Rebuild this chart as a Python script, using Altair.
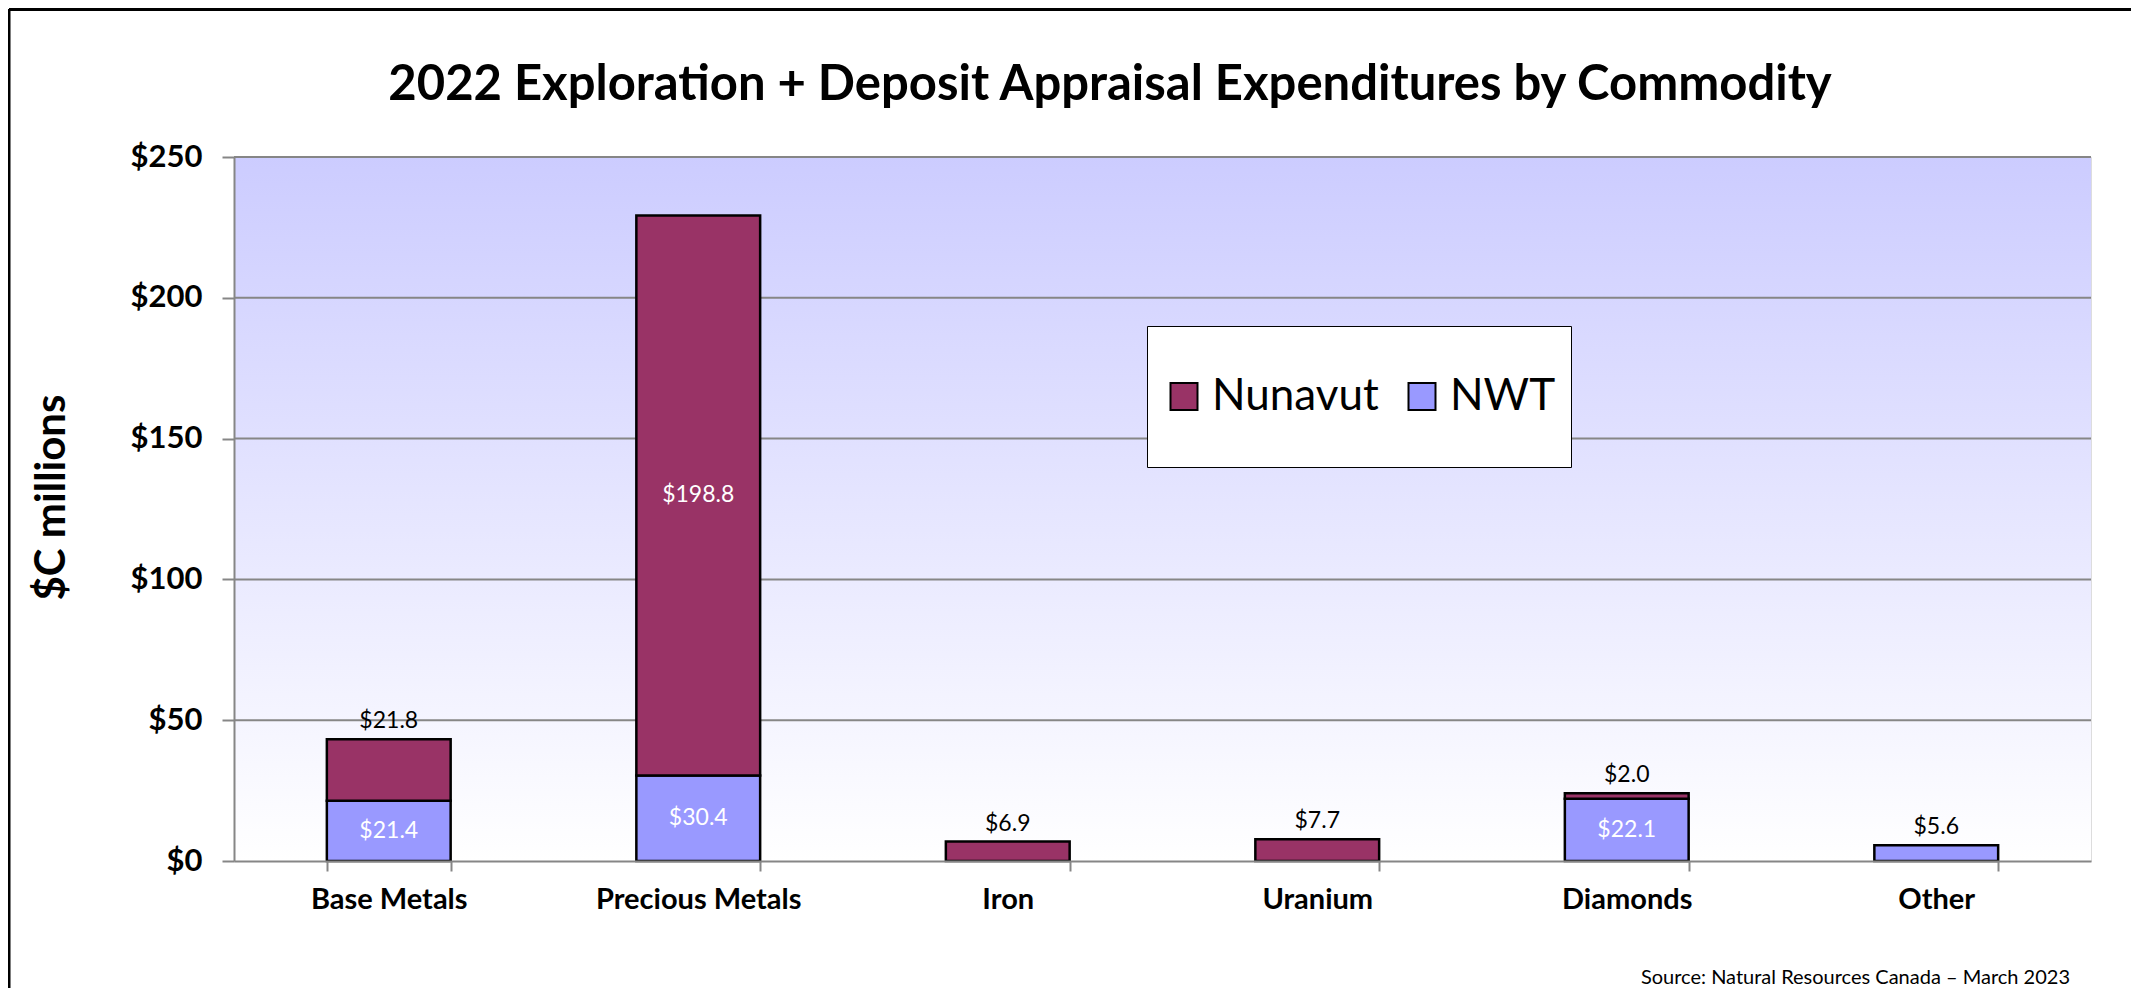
import altair as alt
import pandas as pd

categories = ["Base Metals", "Precious Metals", "Iron", "Uranium", "Diamonds", "Other"]
nunavut = [21.8, 198.8, 6.9, 7.7, 2.0, 0.0]
nwt = [21.4, 30.4, 0.0, 0.0, 22.1, 5.6]
series = ["Nunavut", "NWT"]
colors = ["#993366", "#9999FF"]
y_ticks = [0, 50, 100, 150, 200, 250]
title_text = "2022 Exploration + Deposit Appraisal Expenditures by Commodity"
y_title = "$C millions"
source_text = "Source: Natural Resources Canada \u2013 March 2023"

FONT = "Lato"
GRID = "#868686"
W, H = 1857, 704

rows = []
for i, c in enumerate(categories):
    base = 0.0
    for s, vals in (("NWT", nwt), ("Nunavut", nunavut)):
        v = vals[i]
        if v > 0:
            rows.append(dict(category=c, series=s, value=v, start=base, end=base + v,
                             mid=base + v / 2, label=f"${v:.1f}"))
        base += v
df = pd.DataFrame(rows)
df["inside"] = (df["value"] > 25) | ((df["series"] == "NWT") & (df["value"] > 10))
inside_df = df[df["inside"]]
outside_df = df[~df["inside"]]

y_scale = alt.Scale(domain=[0, 250], nice=False)

x_enc = alt.X("category:N", sort=categories,
              scale=alt.Scale(paddingInner=0.6, paddingOuter=0.3),
              axis=alt.Axis(title=None, labelAngle=0, tickBand="extent", grid=False,
                            labelFont=FONT, labelFontWeight="bold", labelFontSize=29,
                            labelColor="black", labelPadding=14, tickSize=10,
                            labelLimit=500,
                            tickColor=GRID, tickWidth=2, domainColor=GRID, domainWidth=2,
                            zindex=1))

y_axis = alt.Axis(values=y_ticks, labelExpr="'$' + datum.value", grid=False,
                  labelFont=FONT, labelFontWeight="bold", labelFontSize=31,
                  labelColor="black", labelPadding=20, tickSize=12,
                  tickColor=GRID, tickWidth=2, domainColor=GRID, domainWidth=2,
                  title=y_title, titleFont=FONT, titleFontWeight="bold", titleFontSize=42,
                  titleColor="black", titleX=-183, titleY=340,
                  titleBaseline="middle", titleAlign="center", zindex=1)

gradient = alt.LinearGradient(gradient="linear", x1=0, x2=0, y1=0, y2=1,
                              stops=[alt.GradientStop(offset=0, color="#CCCCFF"),
                                     alt.GradientStop(offset=1, color="#FFFFFF")])

one = pd.DataFrame({"a": [0]})

background = alt.Chart(one).mark_rect(fill=gradient).encode(
    x=alt.value(0), x2=alt.value(W), y=alt.value(0), y2=alt.value(H))

grid = alt.Chart(pd.DataFrame({"tick": y_ticks[1:]})).mark_rule(
    color=GRID, strokeWidth=2).encode(
    y=alt.Y("tick:Q", scale=y_scale, axis=y_axis))

bars = alt.Chart(df).mark_bar(stroke="black", strokeWidth=2.5).encode(
    x=x_enc,
    y=alt.Y("start:Q", scale=y_scale),
    y2="end:Q",
    color=alt.Color("series:N", title=None,
                    scale=alt.Scale(domain=series, range=colors),
                    legend=alt.Legend(orient="none", legendX=913, legendY=169,
                                      direction="horizontal", fillColor="white",
                                      strokeColor="black", padding=15,
                                      symbolType="square", symbolSize=729,
                                      symbolStrokeColor="black", symbolStrokeWidth=2,
                                      symbolOpacity=1, labelFont=FONT, labelFontSize=44,
                                      labelColor="black", labelOffset=6,
                                      columnPadding=21, labelLimit=400, clipHeight=111)),
)

text_in = alt.Chart(inside_df).mark_text(font=FONT, fontSize=23, color="white",
                                         baseline="middle").encode(
    x=alt.X("category:N", sort=categories), y=alt.Y("mid:Q"), text="label:N")

text_out = alt.Chart(outside_df).mark_text(font=FONT, fontSize=23, color="black",
                                           baseline="bottom", dy=-6).encode(
    x=alt.X("category:N", sort=categories), y=alt.Y("end:Q"), text="label:N")

source = alt.Chart(pd.DataFrame({"t": [source_text]})).mark_text(
    font=FONT, fontSize=20, color="black", align="right", baseline="middle").encode(
    x=alt.value(1836), y=alt.value(821), text="t:N")

title = alt.Chart(pd.DataFrame({"t": [title_text]})).mark_text(
    font=FONT, fontSize=49, fontWeight="bold", color="black",
    align="center", baseline="middle").encode(
    x=alt.value(876), y=alt.value(-72), text="t:N")

frame_left = alt.Chart(one).mark_rule(color="black", strokeWidth=3).encode(
    x=alt.value(-225), y=alt.value(-148), y2=alt.value(H + 127))
frame_top = alt.Chart(one).mark_rule(color="black", strokeWidth=3).encode(
    x=alt.value(-225), x2=alt.value(W + 40), y=alt.value(-147.5))

chart = alt.layer(frame_left, frame_top, background, grid, bars, text_in, text_out,
                  source, title).properties(
    width=W, height=H,
    autosize=alt.AutoSizeParams(type="none"),
    padding={"left": 226, "top": 149, "right": 40, "bottom": 127},
).configure_view(stroke="transparent").configure(background="white")

chart.save("out.html", embed_options={"renderer": "svg", "actions": False})
